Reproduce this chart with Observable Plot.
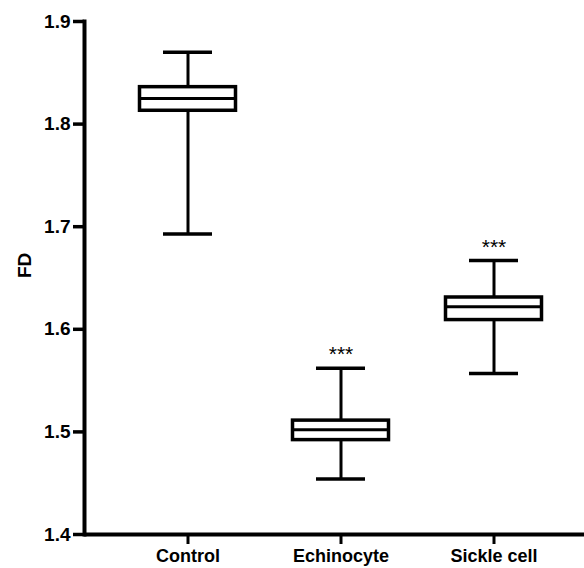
<!DOCTYPE html>
<html>
<head>
<meta charset="utf-8">
<script src="https://cdn.jsdelivr.net/npm/d3@7"></script>
<script src="https://cdn.jsdelivr.net/npm/@observablehq/plot@0.6"></script>
<style>
  html, body { margin: 0; padding: 0; background: #fff; }
  #chart svg { display: block; }
</style>
</head>
<body>
<div id="chart"></div>
<script>
// Data (box plot summary statistics)
const categories = ["Control", "Echinocyte", "Sickle cell"];
const minVals    = [1.693, 1.454, 1.557];
const q1Vals     = [1.813, 1.492, 1.609];
const medianVals = [1.825, 1.502, 1.622];
const q3Vals     = [1.836, 1.511, 1.631];
const maxVals    = [1.870, 1.562, 1.667];
const significance = ["", "***", "***"];
const yTicks = [1.4, 1.5, 1.6, 1.7, 1.8, 1.9];
const yLabel = "FD";

const rows = categories.map((c, i) => ({
  cat: c, min: minVals[i], q1: q1Vals[i], med: medianVals[i],
  q3: q3Vals[i], max: maxVals[i], sig: significance[i]
}));

const font = "'Liberation Sans', Arial, Helvetica, sans-serif";

const chart = Plot.plot({
  width: 584,
  height: 568,
  marginLeft: 84,
  marginRight: 0,
  marginTop: 21,
  marginBottom: 34,
  style: { fontFamily: font, fontSize: "19px", fontWeight: "bold", color: "#000", background: "#fff" },
  x: { domain: categories, paddingInner: 0.35, paddingOuter: 0.3, align: 0.57 },
  y: { domain: [1.4, 1.9] },
  marks: [
    // whiskers
    Plot.ruleX(rows, { x: "cat", y1: "min", y2: "q1", stroke: "#000", strokeWidth: 3 }),
    Plot.ruleX(rows, { x: "cat", y1: "q3", y2: "max", stroke: "#000", strokeWidth: 3 }),
    // caps
    Plot.tickY(rows, { x: "cat", y: "min", stroke: "#000", strokeWidth: 3.5, insetLeft: 25, insetRight: 25 }),
    Plot.tickY(rows, { x: "cat", y: "max", stroke: "#000", strokeWidth: 3.5, insetLeft: 25, insetRight: 25 }),
    // boxes
    Plot.barY(rows, { x: "cat", y1: "q1", y2: "q3", fill: "#fff", stroke: "#000", strokeWidth: 3.5, insetLeft: 1.5, insetRight: 1.5 }),
    // medians
    Plot.tickY(rows, { x: "cat", y: "med", stroke: "#000", strokeWidth: 3, insetLeft: 1.5, insetRight: 1.5 }),
    // significance stars
    Plot.text(rows, { x: "cat", y: "max", text: "sig", dy: -7, lineAnchor: "bottom", fontSize: 21, fontWeight: "normal", fill: "#000" }),
    // axes
    Plot.axisY({ ticks: yTicks, tickFormat: ".1f", tickSize: 11, tickPadding: 3, strokeWidth: 3.5, label: null, fill: "#000" }),
    Plot.axisX({ tickSize: 10, tickPadding: 5, strokeWidth: 3, label: null, fill: "#000", fontSize: 18 }),
    Plot.ruleY([1.4], { stroke: "#000", strokeWidth: 4 }),
    Plot.frame({ anchor: "left", stroke: "#000", strokeWidth: 4 }),
    Plot.text([yLabel], { frameAnchor: "left", text: d => d, rotate: -90, dx: -60, fontSize: 19, fontWeight: "bold", fill: "#000" })
  ]
});

document.getElementById("chart").appendChild(chart);
</script>
</body>
</html>
